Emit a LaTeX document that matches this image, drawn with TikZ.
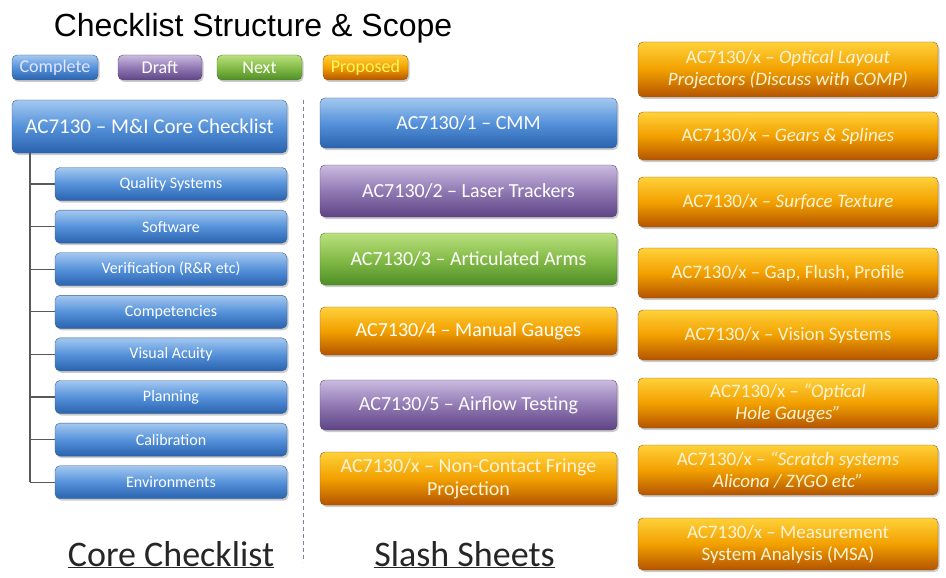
\documentclass[tikz,border=0pt]{standalone}
\usepackage{fontspec}
\setmainfont{Carlito}
\newfontfamily\titlefont{Liberation Sans}
\usetikzlibrary{shadows}

\definecolor{bluetop}{HTML}{A4C8F0}
\definecolor{bluemid}{HTML}{5592DA}
\definecolor{bluebot}{HTML}{2A62AE}
\definecolor{blueedge}{HTML}{3A5F8F}
\definecolor{purpletop}{HTML}{CBBBE0}
\definecolor{purplemid}{HTML}{9179B4}
\definecolor{purplebot}{HTML}{5E4484}
\definecolor{purpleedge}{HTML}{5A4A70}
\definecolor{greentop}{HTML}{BBE07F}
\definecolor{greenmid}{HTML}{84BC48}
\definecolor{greenbot}{HTML}{4E8E26}
\definecolor{greenedge}{HTML}{4F7A30}
\definecolor{orangetop}{HTML}{FFD13A}
\definecolor{orangemid}{HTML}{F2A000}
\definecolor{orangebot}{HTML}{B45400}
\definecolor{orangeedge}{HTML}{8A5A20}
\definecolor{cream}{HTML}{FFF4D6}

\tikzset{
	box/.style={rounded corners=5pt, thin, text=white, align=center, inner sep=0pt,
		drop shadow={shadow xshift=1.5pt, shadow yshift=-2pt, opacity=.4}},
	tone/.style={box, draw=#1edge, top color=#1top, bottom color=#1bot, middle color=#1mid},
	legend/.style={minimum width=85pt, minimum height=25pt, font=\fontsize{18}{20}\selectfont},
	core/.style={tone=blue, minimum width=232pt, minimum height=33pt, font=\fontsize{16}{18}\selectfont},
	slash/.style={minimum width=297pt, minimum height=50pt, font=\fontsize{20}{23}\selectfont},
	scope/.style={tone=orange, text=cream, minimum width=300pt, minimum height=50pt, font=\fontsize{19}{22}\selectfont},
	heading/.style={anchor=base, font=\fontsize{36}{40}\selectfont, text=black!85}
}

\begin{document}
\begin{tikzpicture}[x=1pt,y=-1pt]
	\useasboundingbox (0,0) rectangle (946,578);

	% title and legend
	\node[anchor=base, font=\titlefont\fontsize{32}{36}\selectfont] (title) at (253,37) {Checklist Structure \& Scope};
	\node[tone=blue, legend, text=blue!10, minimum width=86pt] (lgcomplete) at (55,67.5) {Complete};
	\node[tone=purple, legend, minimum width=84pt] (lgdraft) at (160,67.5) {Draft};
	\node[tone=green, legend] (lgnext) at (259.5,67.5) {Next};
	\node[tone=orange, legend, text=yellow!60] (lgproposed) at (365.5,67.5) {Proposed};

	% core checklist
	\node[tone=blue, minimum width=275pt, minimum height=53pt, font=\fontsize{21}{24}\selectfont] (main) at (149.5,126.5) {AC7130 – M\&I Core Checklist};
	\foreach \t [count=\i] in {Quality Systems, Software, Verification (R\&R etc), Competencies, Visual Acuity, Planning, Calibration, Environments}
		\node[core] (sub\i) at (171,141.4+42.6*\i) {\t};
	\coordinate (trunk) at (30,153);
	\draw[line width=1.2pt, color=black!65] (trunk) -- (trunk |- sub8.west);
	\foreach \i in {1,...,8}
		\draw[line width=1.2pt, color=black!65] (trunk |- sub\i.west) -- (sub\i.west);

	% divider
	\coordinate (divtop) at (303,100);
	\coordinate (divbot) at (303,562);
	\draw[dash pattern=on 4pt off 3pt, thick, color=blue!30!black!50] (divtop) -- (divbot);

	% slash sheets
	\node[tone=blue, slash] (cmm) at (468.5,123) {AC7130/1 – CMM};
	\node[tone=purple, slash, minimum height=52pt] (laser) at (468.5,191) {AC7130/2 – Laser Trackers};
	\node[tone=green, slash, minimum height=52pt] (arms) at (468.5,259) {AC7130/3 – Articulated Arms};
	\node[tone=orange, slash, minimum height=48pt] (gauges) at (468.5,331) {AC7130/4 – Manual Gauges};
	\node[tone=purple, slash] (airflow) at (468.5,405) {AC7130/5 – Airflow Testing};
	\node[tone=orange, slash, text=cream, minimum height=53pt] (fringe) at (468.5,478.5) {AC7130/x – Non-Contact Fringe\\Projection};

	% proposed scope
	\node[scope, minimum height=55pt] (layout) at (788,69.5) {AC7130/x – \textit{Optical Layout}\\\textit{Projectors (Discuss with COMP)}};
	\node[scope, minimum height=48pt] (gears) at (788,136) {AC7130/x – \textit{Gears \& Splines}};
	\node[scope] (texture) at (788,202) {AC7130/x – \textit{Surface Texture}};
	\node[scope] (profile) at (788,273) {AC7130/x – Gap, Flush, Profile};
	\node[scope] (vision) at (788,335) {AC7130/x – Vision Systems};
	\node[scope] (hole) at (788,403) {AC7130/x – \textit{“Optical}\\\textit{Hole Gauges”}};
	\node[scope] (scratch) at (788,470) {AC7130/x – \textit{“Scratch systems}\\\textit{Alicona / ZYGO etc”}};
	\node[scope, minimum height=52pt] (msa) at (788,544) {AC7130/x – Measurement\\System Analysis (MSA)};

	% headings
	\node[heading] (corelabel) at (171,566) {\underline{Core Checklist}};
	\node[heading] (slashlabel) at (464.5,566) {\underline{Slash Sheets}};
\end{tikzpicture}
\end{document}
